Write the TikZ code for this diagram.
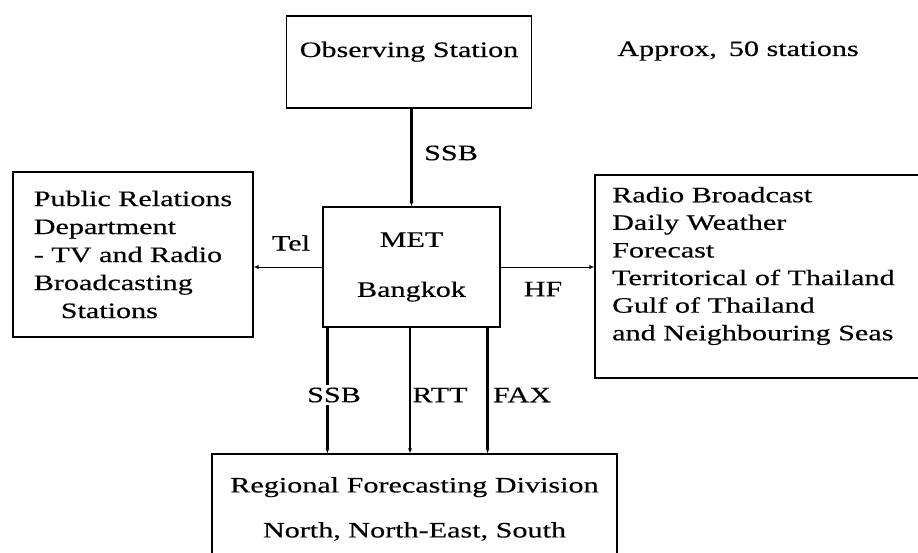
\documentclass[tikz,border=0pt]{standalone}
\usepackage{fontspec}
\setmainfont{Liberation Serif}[FakeStretch=1.37,FakeBold=0.4]
\usetikzlibrary{arrows.meta,calc}
\begin{document}
\begin{tikzpicture}[x=1pt,y=-1pt,
  every node/.style={font=\fontsize{22}{27.6}\selectfont, inner sep=0pt},
  box/.style={draw, line width=1.1pt, rectangle},
  conn/.style={line width=2.4pt, -{Latex[length=5pt,width=4pt]}},
  thinarr/.style={line width=0.8pt, -{Latex[length=5pt,width=4pt]}},
  lbl/.style={fill=white, inner sep=3pt}
]
\useasboundingbox (0,0) rectangle (918,552);

\node[box, minimum width=245pt, minimum height=92pt, text height=16pt, text depth=26pt] (obs) at (409,62) {Observing Station};
\node (approx) at (738,51) {Approx,\hspace{12pt}50 stations};

\node[box, minimum width=177pt, minimum height=120pt, align=center, font=\fontsize{22}{50}\selectfont] (met) at (411.5,267) {MET\\Bangkok};

\node[box, minimum width=240pt, minimum height=165pt, align=left, font=\fontsize{22}{28}\selectfont] (pr) at (133,254.5) {Public Relations\\Department\\- TV and Radio\\Broadcasting\\\hspace*{27pt}Stations};

\node[box, minimum width=335pt, minimum height=203pt] (rb) at (762.5,276.5) {};
\node[anchor=west, align=left, font=\fontsize{22}{27.6}\selectfont] (rbt) at (612,266) {Radio Broadcast\\Daily Weather\\Forecast\\Territorical of Thailand\\Gulf of Thailand\\and Neighbouring Seas};

\node[box, minimum width=405pt, minimum height=110pt, align=center, font=\fontsize{22}{45}\selectfont] (rf) at (414.5,509) {Regional Forecasting Division\\North, North-East, South};

\draw[conn] (obs.south -| met) -- (met.north);
\draw[thinarr] (met.west) -- (met.west -| pr.east);
\draw[thinarr] (met.east) -- (met.east -| rb.west);

\coordinate (c1) at ($(met.south west)+(5,0)$);
\coordinate (c2) at ($(met.south)+(-1.5,0)$);
\coordinate (c3) at ($(met.south east)+(-13,0)$);
\draw[conn] (c1) -- (c1 |- rf.north);
\draw[conn] (c2) -- (c2 |- rf.north);
\draw[conn] (c3) -- (c3 |- rf.north);

\node (lssb1) at (451,153) {SSB};
\node (ltel) at (291,243) {Tel};
\node (lhf) at (543,289) {HF};
\node[lbl] (lssb2) at (334,395) {SSB};
\node (lrtt) at (440,395) {RTT};
\node (lfax) at (522,395) {FAX};
\end{tikzpicture}
\end{document}
